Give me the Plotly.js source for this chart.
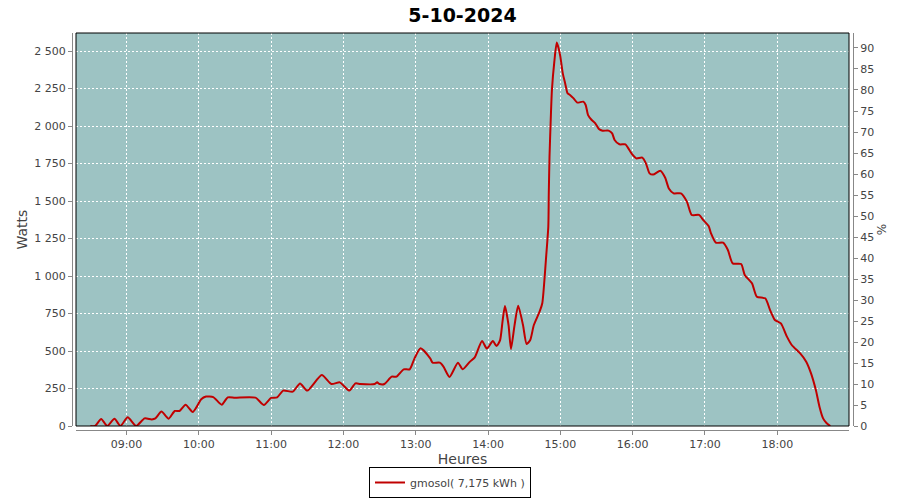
<!DOCTYPE html>
<html><head><meta charset="utf-8">
<script src="https://cdn.plot.ly/plotly-3.0.1.min.js"></script>
<style>html,body{margin:0;padding:0;background:#fff}#chart{width:900px;height:500px}</style>
</head><body><div id="chart"></div>
<script>
const day = "2024-10-05";
const chartTitle = "5-10-2024";
const seriesName = "gmosol( 7,175 kWh )";
const xTitle = "Heures";
const yTitle = "Watts";
const y2Title = "%";

const times = [
"08:30","08:34","08:39","08:44","08:50","08:55","09:01","09:08","09:15","09:21","09:24","09:29","09:35","09:40","09:44","09:49","09:55","09:58",
"10:02","10:06","10:12","10:19","10:24","10:30","10:47","10:54","11:00","11:05","11:10","11:18","11:24","11:30","11:42","11:50","11:57",
"12:01","12:05","12:10","12:14","12:26","12:28","12:30","12:34","12:40","12:44","12:50","12:55","12:59","13:04","13:12","13:14","13:20","13:23",
"13:28","13:35","13:39","13:45","13:49","13:55","13:59","14:04","14:07","14:10","14:12","14:14","14:17","14:19","14:22","14:25","14:29","14:32",
"14:35","14:38","14:43","14:45","14:47","14:48","14:50","14:50:24","14:51","14:52","14:53","14:55","14:57","14:58:30","15:00","15:02","15:04",
"15:06","15:08","15:11","15:14","15:19","15:21","15:23","15:26","15:29","15:32","15:35","15:40","15:43","15:45","15:49","15:54","15:56","16:00",
"16:03","16:08","16:11","16:14","16:17","16:23","16:27","16:30","16:34","16:40","16:45","16:49","16:55","16:59","17:03","17:05","17:09","17:15",
"17:19","17:23","17:30","17:33","17:39","17:43","17:50","17:54","17:58","18:03","18:08","18:12","18:19","18:24","18:28","18:32","18:35","18:38",
"18:41","18:44"];
const watts = [
0,0,47,0,49,0,58,0,51,44,51,96,49,100,100,142,93,124,
178,196,193,142,191,189,189,140,187,191,236,229,284,236,340,280,291,
262,236,284,280,280,291,280,280,329,329,378,378,451,518,451,422,422,396,
327,422,378,429,458,567,516,567,533,573,696,800,673,513,673,802,673,547,
573,673,767,818,996,1107,1329,1551,1796,2040,2240,2429,2556,2520,2462,2351,2284,
2218,2207,2184,2156,2162,2140,2073,2040,2018,1980,1969,1969,1951,1907,1878,1878,1856,1807,
1784,1789,1751,1684,1676,1702,1655,1584,1551,1551,1496,1407,1407,1369,1333,1284,1222,1222,
1173,1084,1080,1007,951,862,851,773,707,684,596,540,484,429,351,240,129,51,
18,0];

const xRange = ["08:18:06","18:59:30"];
const yRange = [0, 2620];
const y2Range = [0, 93.57];

const fullTimes = times.map(t => day + " " + (t.length === 5 ? t + ":00" : t));

const W = 900, H = 500;
const m = {l:72, r:47, t:33, b:70};
const pw = W - m.l - m.r, ph = H - m.t - m.b;
const off = 4;
const tickFont = {family:"DejaVu Sans", size:11, color:"#444"};
const titleFont = {family:"DejaVu Sans", size:14, color:"#444"};

const trace = {
  x: fullTimes, y: watts, type:"scatter", mode:"lines", name: seriesName,
  line:{color:"#C00000", width:2, shape:"spline", smoothing:0.6},
  showlegend:true
};
// empty trace so the right-hand percentage axis is drawn
const axisHolder = {x:[], y:[], type:"scatter", mode:"lines", yaxis:"y2", showlegend:false, hoverinfo:"skip"};

const layout = {
  width:W, height:H, margin:m,
  paper_bgcolor:"#ffffff", plot_bgcolor:"#9DC3C3",
  separators:", ",
  title:{text:chartTitle, x:0.5, xref:"paper", xanchor:"center", y:1-15/H, yanchor:"middle",
    font:{family:"DejaVu Sans", size:19, color:"#000", weight:"bold"}},
  xaxis:{type:"date", domain:[off/pw, 1-off/pw], anchor:"free", position:0,
    range:[day+" "+xRange[0], day+" "+xRange[1]],
    tickformat:"%H:%M", dtick:3600000, tick0:day+" 00:00:00",
    showline:true, linecolor:"#888", linewidth:1,
    ticks:"outside", ticklen:4, tickcolor:"#888",
    showgrid:true, gridcolor:"#ffffff", griddash:"2px,2px", gridwidth:1,
    zeroline:false, tickfont:tickFont, automargin:false,
    title:{text:xTitle, font:titleFont, standoff:4}},
  yaxis:{domain:[off/ph, 1], anchor:"free", position:0, range:yRange, dtick:250,
    separatethousands:true,
    showline:true, linecolor:"#888", linewidth:1,
    ticks:"outside", ticklen:4, tickcolor:"#888",
    showgrid:true, gridcolor:"#ffffff", griddash:"2px,2px", gridwidth:1,
    zeroline:false, tickfont:tickFont, automargin:false,
    title:{text:yTitle, font:titleFont, standoff:2}},
  yaxis2:{overlaying:"y", side:"right", anchor:"free", position:1, range:y2Range, dtick:5,
    showline:true, linecolor:"#888", linewidth:1,
    ticks:"outside", ticklen:4, tickcolor:"#888",
    showgrid:false, zeroline:false, tickfont:tickFont, automargin:false,
    title:{text:y2Title, font:{family:"DejaVu Sans", size:12, color:"#444"}, standoff:4}},
  shapes:[{type:"rect", xref:"x domain", yref:"y domain", x0:0, x1:1, y0:0, y1:1,
    line:{color:"#000", width:1}, fillcolor:"rgba(0,0,0,0)", layer:"above"}],
  legend:{orientation:"h", x:0.5, xanchor:"center", xref:"container", yref:"container", y:1-498/H, yanchor:"bottom",
    bordercolor:"#000", borderwidth:1, bgcolor:"#fff",
    font:{family:"DejaVu Sans", size:11, color:"#444"}, itemwidth:30},
  showlegend:true
};

Plotly.newPlot("chart", [trace, axisHolder], layout, {displayModeBar:false, staticPlot:true});
</script></body></html>
